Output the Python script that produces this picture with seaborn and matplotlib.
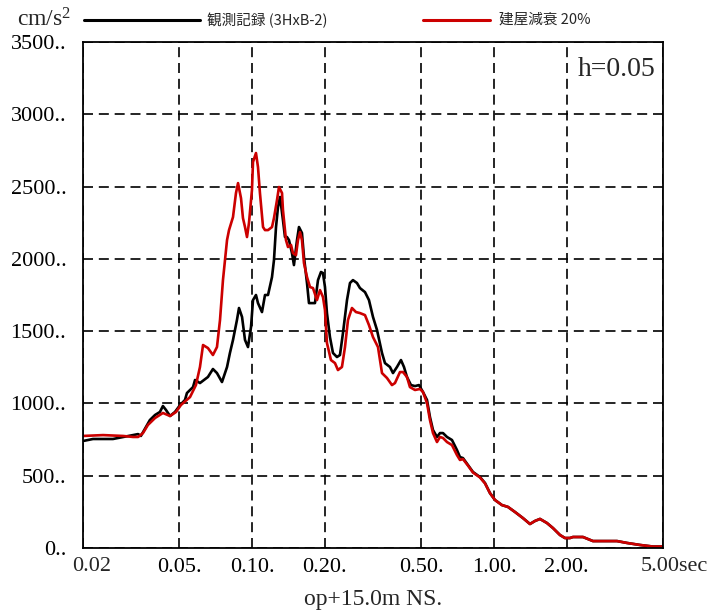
import matplotlib
matplotlib.use("Agg")
import matplotlib.pyplot as plt
import seaborn as sns
import pandas as pd
from matplotlib.lines import Line2D
from matplotlib.ticker import NullLocator
from matplotlib.transforms import ScaledTranslation, blended_transform_factory

# Acceleration response spectrum (h=0.05), op+15.0m NS
period_obs = [0.0200, 0.0220, 0.0242, 0.0266, 0.0293, 0.0322, 0.0338, 0.0347, 0.0364, 0.0378,
              0.0397, 0.0416, 0.0428, 0.0441, 0.0458, 0.0480, 0.0504, 0.0528, 0.0538, 0.0570,
              0.0581, 0.0609, 0.0657, 0.0689, 0.0716, 0.0751, 0.0788, 0.0810, 0.0834, 0.0866,
              0.0883, 0.0909, 0.0935, 0.0962, 0.0990, 0.1009, 0.1038, 0.1058, 0.1099, 0.1131,
              0.1164, 0.1209, 0.1232, 0.1256, 0.1280, 0.1305, 0.1342, 0.1368, 0.1394, 0.1421,
              0.1462, 0.1490, 0.1534, 0.1563, 0.1608, 0.1639, 0.1687, 0.1719, 0.1786, 0.1820,
              0.1873, 0.1927, 0.1964, 0.2002, 0.2040, 0.2099, 0.2160, 0.2244, 0.2309, 0.2376,
              0.2469, 0.2540, 0.2613, 0.2714, 0.2793, 0.2930, 0.3043, 0.3162, 0.3285, 0.3445,
              0.3544, 0.3716, 0.3825, 0.3973, 0.4127, 0.4247, 0.4369, 0.4539, 0.4716, 0.4899,
              0.5089, 0.5287, 0.5439, 0.5598, 0.5815, 0.5983, 0.6157, 0.6396, 0.6706, 0.7032,
              0.7237, 0.7447, 0.7810, 0.8190, 0.8754, 0.9181, 0.9628, 1.010, 1.079, 1.143,
              1.222, 1.318, 1.409, 1.478, 1.550, 1.656, 1.754, 1.875, 1.966, 2.062,
              2.122, 2.334, 2.566, 2.822, 3.226, 3.548, 4.016, 4.544, 5.000]
accel_obs = [740, 754, 754, 754, 768, 781, 788, 775, 837, 885,
             920, 941, 982, 954, 913, 941, 989, 1024, 1072, 1113,
             1162, 1141, 1183, 1238, 1210, 1148, 1252, 1349, 1439, 1577,
             1660, 1598, 1439, 1390, 1528, 1715, 1750, 1694, 1632, 1750,
             1750, 1874, 1992, 2220, 2358, 2428, 2268, 2151, 2151, 2130,
             2040, 1957, 2130, 2220, 2179, 2013, 1833, 1694, 1694, 1694,
             1853, 1909, 1902, 1805, 1625, 1459, 1349, 1321, 1335, 1487,
             1715, 1833, 1853, 1833, 1798, 1770, 1715, 1598, 1508, 1349,
             1279, 1252, 1210, 1252, 1300, 1252, 1183, 1127, 1120, 1127,
             1079, 1024, 906, 816, 768, 795, 795, 768, 747, 678,
             629, 622, 574, 526, 491, 450, 380, 332, 297, 284,
             249, 207, 166, 187, 201, 173, 138, 90, 69, 69,
             76, 76, 48, 48, 48, 35, 21, 10, 10]

period_bldg = [0.0200, 0.0242, 0.0293, 0.0322, 0.0338, 0.0354, 0.0371, 0.0397, 0.0428, 0.0458,
               0.0485, 0.0508, 0.0554, 0.0586, 0.0609, 0.0627, 0.0657, 0.0689, 0.0716, 0.0737,
               0.0758, 0.0788, 0.0803, 0.0834, 0.0858, 0.0875, 0.0900, 0.0917, 0.0935, 0.0953,
               0.0971, 0.0999, 0.1009, 0.1038, 0.1058, 0.1078, 0.1110, 0.1131, 0.1164, 0.1209,
               0.1232, 0.1268, 0.1292, 0.1330, 0.1342, 0.1381, 0.1408, 0.1449, 0.1476, 0.1519,
               0.1548, 0.1578, 0.1608, 0.1639, 0.1687, 0.1736, 0.1786, 0.1855, 0.1909, 0.1964,
               0.2002, 0.2040, 0.2119, 0.2202, 0.2265, 0.2353, 0.2422, 0.2492, 0.2588, 0.2689,
               0.2793, 0.2930, 0.3043, 0.3162, 0.3316, 0.3445, 0.3612, 0.3788, 0.3898, 0.4088,
               0.4207, 0.4369, 0.4495, 0.4716, 0.4945, 0.5089, 0.5287, 0.5439, 0.5598, 0.5815,
               0.5983, 0.6157, 0.6396, 0.6706, 0.7032, 0.7237, 0.7447, 0.7810, 0.8190, 0.8754,
               0.9181, 0.9628, 1.010, 1.079, 1.143, 1.222, 1.318, 1.409, 1.478, 1.550,
               1.656, 1.754, 1.875, 1.966, 2.062, 2.122, 2.334, 2.566, 2.822, 3.226,
               3.548, 4.016, 4.544, 5.000]
accel_bldg = [775, 781, 775, 768, 768, 795, 851, 899, 934, 913,
              941, 989, 1044, 1127, 1252, 1404, 1383, 1335, 1390, 1577,
              1853, 2130, 2199, 2289, 2455, 2524, 2420, 2282, 2220, 2151,
              2248, 2476, 2670, 2732, 2635, 2455, 2220, 2199, 2199, 2220,
              2282, 2407, 2497, 2455, 2338, 2130, 2082, 2096, 2040, 2026,
              2130, 2185, 2130, 1971, 1874, 1805, 1798, 1715, 1784, 1736,
              1646, 1418, 1300, 1279, 1231, 1252, 1390, 1577, 1660, 1632,
              1625, 1611, 1542, 1459, 1390, 1210, 1176, 1127, 1141, 1217,
              1217, 1183, 1113, 1093, 1100, 1079, 1003, 885, 795, 733,
              768, 761, 733, 712, 643, 609, 615, 570, 522, 488,
              447, 380, 332, 297, 284, 249, 207, 166, 187, 201,
              173, 138, 90, 69, 69, 76, 76, 48, 48, 48,
              35, 21, 10, 10]

xticks = [0.02, 0.05, 0.1, 0.2, 0.5, 1.0, 2.0, 5.0]
xtick_labels = ["", "0.05.", "0.10.", "0.20.", "0.50.", "1.00.", "2.00.", ""]
yticks = [0, 500, 1000, 1500, 2000, 2500, 3000, 3500]
ytick_labels = ["0..", "500..", "1000..", "1500..", "2000..", "2500..", "3000..", "3500.."]

legend_obs = "観測記録 (3HxB-2)"
legend_bldg = "建屋減衰 20%"
damping_text = "h=0.05"
xlabel_text = "op+15.0m NS."

sns.set_theme(style="white")
plt.rcParams["font.family"] = ["Liberation Serif", "Noto Sans CJK JP", "DejaVu Sans"]
plt.rcParams["mathtext.fontset"] = "custom"
plt.rcParams["mathtext.rm"] = "Liberation Serif"
plt.rcParams["mathtext.it"] = "Liberation Serif"

RED = "#cc0000"
W, H = 719, 615
fig = plt.figure(figsize=(W / 100, H / 100), dpi=100)
ax = fig.add_axes([83 / W, 1 - 548 / H, (663 - 83) / W, (548 - 42) / H])

df_obs = pd.DataFrame({"period": period_obs, "accel": accel_obs})
df_bldg = pd.DataFrame({"period": period_bldg, "accel": accel_bldg})
sns.lineplot(data=df_obs, x="period", y="accel", color="black", lw=1.9,
             estimator=None, sort=False, ax=ax, zorder=3)
sns.lineplot(data=df_bldg, x="period", y="accel", color=RED, lw=1.9,
             estimator=None, sort=False, ax=ax, zorder=4)
for ln in ax.get_lines():
    ln.set_solid_joinstyle("round")

ax.set_xscale("log")
ax.set_xlim(0.02, 5.0)
ax.set_ylim(0, 3500)
ax.set_xticks(xticks)
ax.set_xticklabels(xtick_labels)
ax.xaxis.set_minor_locator(NullLocator())
ax.set_yticks(yticks)
ax.set_yticklabels(ytick_labels)
ax.set_xlabel(xlabel_text, fontsize=17, labelpad=9)
ax.set_ylabel("")
ax.tick_params(axis="both", length=0, labelsize=16, colors="black")
ax.tick_params(axis="x", pad=7)
ax.tick_params(axis="y", pad=12)

ax.grid(True, which="major", color="black", lw=1.2, ls=(0, (6, 3.5)))
for s in ax.spines.values():
    s.set_visible(True)
    s.set_color("black")
    s.set_linewidth(1.3)
    s.set_zorder(5)

# end labels of the period axis, offset from their ticks
xform = blended_transform_factory(ax.transData, ax.transAxes)
ax.text(0.02, 0, "0.02", fontsize=16, ha="center", va="top",
        transform=xform + ScaledTranslation(0.09, -0.09, fig.dpi_scale_trans))
ax.text(5.0, 0, "5.00sec", fontsize=16, ha="left", va="top",
        transform=xform + ScaledTranslation(-0.22, -0.09, fig.dpi_scale_trans))

ax.text(656 / W, 1 - 70 / H, damping_text, transform=fig.transFigure,
        fontsize=20, ha="right", va="center")

# header: unit and legend
fig.text(17 / W, 1 - 20 / H, r"cm/s$^2$", fontsize=17, ha="left", va="center")
ly = 1 - 20 / H
fig.add_artist(Line2D([84 / W, 200 / W], [ly, ly], transform=fig.transFigure,
                      color="black", lw=2.2))
fig.text(207 / W, ly, legend_obs, fontsize=10.5, ha="left", va="center",
         family=["Noto Sans CJK JP", "DejaVu Sans"])
fig.add_artist(Line2D([423 / W, 490 / W], [ly, ly], transform=fig.transFigure,
                      color=RED, lw=2.2))
fig.text(499 / W, ly, legend_bldg, fontsize=10.5, ha="left", va="center",
         family=["Noto Sans CJK JP", "DejaVu Sans"])

fig.savefig("out.png", dpi=100, facecolor="white")
